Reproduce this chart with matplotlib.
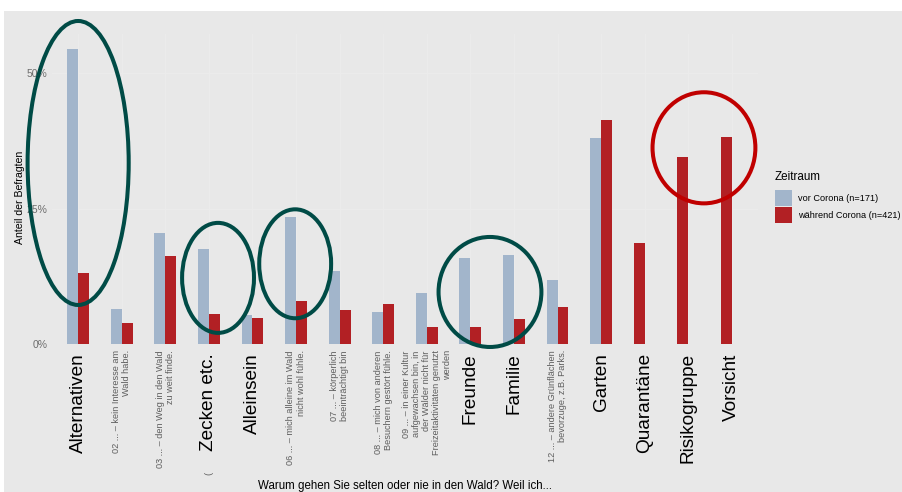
import matplotlib
matplotlib.use("Agg")
import matplotlib.pyplot as plt
from matplotlib.patches import Ellipse, Rectangle, Patch
import numpy as np

plt.rcParams['font.family'] = ['Liberation Sans', 'DejaVu Sans']

# data (share of respondents in %)
categories = ["01", "02", "03", "04", "05", "06", "07", "08", "09",
              "10", "11", "12", "13", "14", "15", "16"]
vor_corona = [54.4, 6.5, 20.5, 17.5, 5.4, 23.4, 13.5, 5.9, 9.4,
              15.9, 16.4, 11.8, 38.0, np.nan, np.nan, np.nan]
waehrend_corona = [13.1, 3.9, 16.2, 5.5, 4.8, 7.9, 6.3, 7.4, 3.1,
                   3.1, 4.6, 6.8, 41.3, 18.6, 34.5, 38.2]

# small original axis labels
small_labels = {
    1: "02 ... – kein Interesse am\nWald habe.",
    2: "03 ... – den Weg in den Wald\nzu weit finde.",
    5: "06 ... – mich alleine im Wald\nnicht wohl fühle.",
    6: "07 ... – körperlich\nbeeinträchtigt bin",
    7: "08 ... – mich von anderen\nBesuchern gestört fühle.",
    8: "09 ... – in einer Kultur\naufgewachsen bin, in\nder Wälder nicht für\nFreizeitaktivitäten genutzt\nwerden",
    11: "12 ... – andere Grünflächen\nbevorzuge, z.B. Parks.",
}
# large overlaid labels
big_labels = {
    0: "Alternativen", 3: "Zecken etc.", 4: "Alleinsein", 9: "Freunde",
    10: "Familie", 12: "Garten", 13: "Quarantäne", 14: "Risikogruppe",
    15: "Vorsicht",
}
series_names = ["vor Corona (n=171)", "während Corona (n=421)"]

# highlight ellipses: (x, y, width, height, colour)
highlights = [
    (0.0, 33.4, 2.32, 52.4, "#004B46"),
    (3.21, 12.2, 1.65, 20.3, "#004B46"),
    (4.98, 14.8, 1.65, 20.1, "#004B46"),
    (9.45, 9.6, 2.36, 20.3, "#004B46"),
    (14.36, 36.2, 2.36, 20.5, "#C00000"),
]

bg = "#E8E8E8"
blue = "#A2B5CB"
red = "#B22024"

W, H = 902, 492
fig = plt.figure(figsize=(W / 100, H / 100), dpi=100)
fig.patch.set_facecolor("white")
fig.patches.append(Rectangle((4 / W, 0), 1, 1 - 11 / H, transform=fig.transFigure,
                             facecolor=bg, edgecolor="none", zorder=-5))

ax = fig.add_axes([52 / W, 1 - 344 / H, (758 - 52) / W, (344 - 34) / H])
ax.set_zorder(1)
ax.set_facecolor(bg)
for s in ax.spines.values():
    s.set_visible(False)

x = np.arange(len(categories))
bw = 0.25
v = np.array(vor_corona, dtype=float)
w = np.array(waehrend_corona, dtype=float)
# corona-only answers sit in the left slot
red_x = np.where(np.isnan(v), x - bw / 2, x + bw / 2)
ax.bar(x - bw / 2, np.nan_to_num(v), width=bw, color=blue, zorder=2)
ax.bar(red_x, w, width=bw, color=red, zorder=2)

ax.set_xlim(-0.6, len(categories) - 0.4)
ax.set_ylim(0, 57.2)
ax.set_yticks([0, 25, 50])
ax.set_yticklabels(["0%", "25%", "50%"], fontsize=7.5, color="#6E6E6E")
ax.set_xticks(x)
ax.set_xticklabels([])
ax.tick_params(length=0, pad=3.5)
ax.grid(True, color="#ECECEC", linewidth=0.6, zorder=0)
ax.set_axisbelow(True)

tr = ax.get_xaxis_transform()
for i, lab in small_labels.items():
    ax.text(i, -0.02, lab, transform=tr, rotation=90, ha="center", va="top",
            multialignment="right", fontsize=6.6, color="#5E5E5E",
            linespacing=1.17, clip_on=False, zorder=3)
ax.text(3, -0.416, "(", transform=tr, rotation=90, ha="center", va="center",
        fontsize=6.6, color="#5E5E5E", clip_on=False)
for i, lab in big_labels.items():
    ax.text(i, -0.03, lab, transform=tr, rotation=90, ha="center", va="top",
            fontsize=13.7, color="black", clip_on=False, zorder=4,
            bbox=dict(facecolor=bg, edgecolor="none", pad=1.5))

ax.set_ylabel("Anteil der Befragten", fontsize=7.6)
ax.yaxis.set_label_coords(-27 / (758 - 52), 0.474)
fig.text((52 + 758) / 2 / W, 1 - 486 / H,
         "Warum gehen Sie selten oder nie in den Wald? Weil ich...",
         ha="center", va="center", fontsize=8.3)

for ex, ey, ew, eh, col in highlights:
    ax.add_patch(Ellipse((ex, ey), ew, eh, fill=False, edgecolor=col,
                         linewidth=2.9, clip_on=False, zorder=5))

handles = [Patch(facecolor=blue, edgecolor="none"),
           Patch(facecolor=red, edgecolor="none")]
leg = fig.legend(handles, series_names, title="Zeitraum", loc="upper left",
                 bbox_to_anchor=(772 / W, 1 - 168 / H), frameon=False,
                 fontsize=6.6, title_fontsize=8.4, handlelength=1.85,
                 handleheight=2.3, labelspacing=0.2, handletextpad=0.7,
                 borderaxespad=0, borderpad=0.3)
leg._legend_box.align = "left"
leg._legend_box.sep = 5

fig.savefig("out.png", dpi=100, facecolor=fig.get_facecolor())
